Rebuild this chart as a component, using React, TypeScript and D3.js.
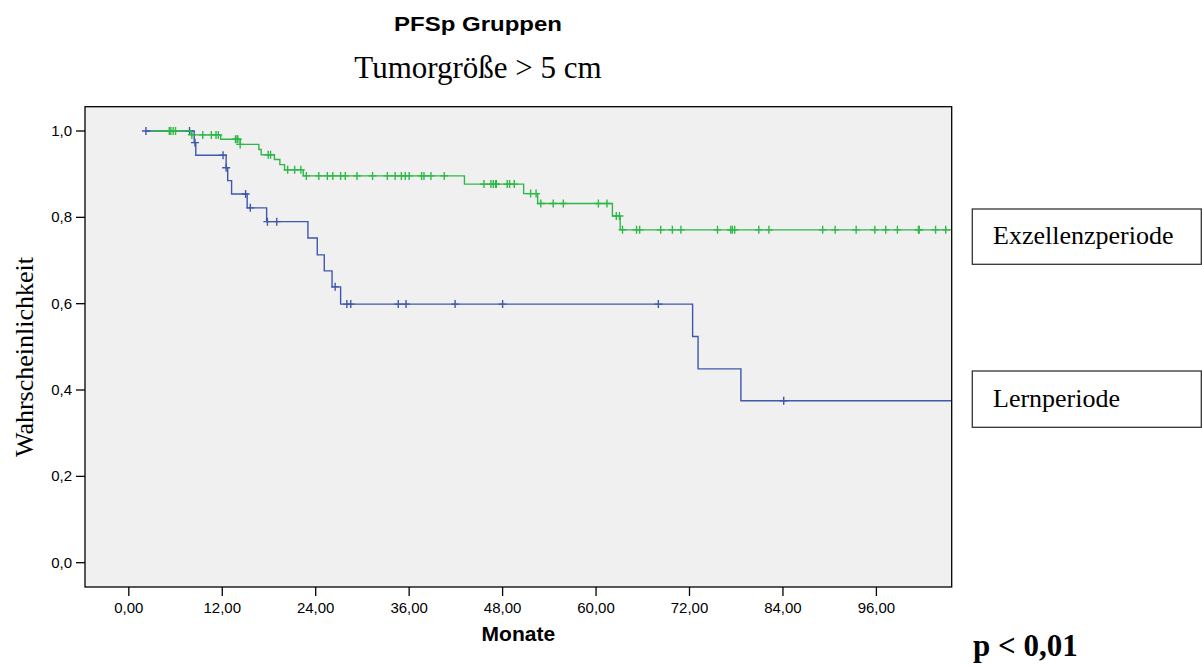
import React from 'react';
import * as d3 from 'd3';

const title = 'PFSp Gruppen';
const subtitle = 'Tumorgröße > 5 cm';
const xLabel = 'Monate';
const yLabel = 'Wahrscheinlichkeit';
const pText = 'p < 0,01';
const groupNames = ['Exzellenzperiode', 'Lernperiode'];
const groupColors = ['#2EB848', '#3E58AC'];

const xTicks = [0, 12, 24, 36, 48, 60, 72, 84, 96];
const yTicks = [0, 0.2, 0.4, 0.6, 0.8, 1.0];
const endTime = 105.6;

// Lernperiode (blue)
const lernStart = 2.2;
const lernTimes = [8.4, 8.6, 12.5, 12.7, 13.2, 15.2, 17.7, 23.0, 24.2, 25.1, 26.1, 27.2, 72.4, 73.1, 78.6];
const lernSurv = [0.973, 0.944, 0.915, 0.885, 0.854, 0.822, 0.79, 0.752, 0.713, 0.676, 0.639, 0.599, 0.524, 0.449, 0.375];
const lernCensored = [2.2, 7.8, 8.5, 12.1, 12.5, 15.0, 15.6, 17.8, 19.0, 26.5, 28.0, 28.5, 34.6, 35.6, 41.9, 48.0, 68.0, 84.1];

// Exzellenzperiode (green)
const exzStart = 3.0;
const exzTimes = [8.0, 11.8, 14.3, 16.7, 17.0, 18.7, 19.4, 20.0, 22.4, 43.1, 50.7, 52.5, 62.1, 63.1];
const exzSurv = [0.991, 0.981, 0.969, 0.957, 0.945, 0.934, 0.922, 0.91, 0.896, 0.877, 0.855, 0.832, 0.803, 0.771];
const exzCensored = [5.2, 5.4, 5.7, 6.0, 8.1, 9.5, 10.6, 11.2, 11.5, 13.7, 13.9, 14.0, 14.3, 17.9, 18.2, 20.4, 21.3, 22.1, 22.8, 24.4, 25.5, 26.2, 27.2, 27.8, 29.3, 31.3, 33.2, 34.2, 35.0, 35.5, 36.0, 37.6, 37.9, 38.8, 40.5, 45.6, 46.5, 46.8, 47.1, 47.2, 48.6, 48.9, 49.5, 51.6, 52.3, 52.9, 54.5, 55.8, 60.3, 61.4, 62.6, 63.0, 63.4, 65.2, 65.6, 68.3, 69.8, 70.9, 75.6, 77.3, 77.5, 77.8, 80.9, 82.2, 89.1, 90.7, 93.4, 95.8, 97.2, 98.7, 101.4, 101.5, 103.6, 104.9];

const W = 1202;
const H = 666;
const plotL = 85;
const plotR = 951.7;
const plotT = 106.7;
const plotB = 587;

const SANS = "'Liberation Sans', Arial, sans-serif";
const SERIF = "'Liberation Serif', 'Times New Roman', serif";

const x = d3.scaleLinear().domain([0, 96]).range([128.8, 876.4]);
const y = d3.scaleLinear().domain([0, 1]).range([562.7, 131]);

function survAt(times: number[], surv: number[], t: number) {
  let s = 1;
  for (let i = 0; i < times.length; i++) {
    if (times[i] <= t) s = surv[i];
  }
  return s;
}

const line = d3
  .line<[number, number]>()
  .x((d) => x(d[0]))
  .y((d) => y(d[1]))
  .curve(d3.curveStepAfter);

function stepPath(start: number, times: number[], surv: number[]) {
  const pts: [number, number][] = [[start, 1]];
  times.forEach((t, i) => pts.push([t, surv[i]]));
  pts.push([endTime, surv[surv.length - 1]]);
  return line(pts) || '';
}

const series = [
  { name: groupNames[1], start: lernStart, times: lernTimes, surv: lernSurv, cens: lernCensored, color: groupColors[1] },
  { name: groupNames[0], start: exzStart, times: exzTimes, surv: exzSurv, cens: exzCensored, color: groupColors[0] },
];

export default function App() {
  const arm = 4;
  return (
    <svg
      width={W}
      height={H}
      style={{ position: 'absolute', left: 0, top: 0, background: '#fff' }}
    >
      <defs>
        <clipPath id="plotclip">
          <rect x={plotL} y={plotT} width={plotR - plotL} height={plotB - plotT} />
        </clipPath>
      </defs>
      <rect x={0} y={0} width={W} height={H} fill="#fff" />
      <text x={478} y={31} textAnchor="middle" fontFamily={SANS} fontWeight="bold" fontSize={21} textLength={168} lengthAdjust="spacingAndGlyphs" fill="#000">
        {title}
      </text>
      <text x={478} y={78} textAnchor="middle" fontFamily={SERIF} fontSize={31} fill="#000">
        {subtitle}
      </text>

      <rect x={plotL} y={plotT} width={plotR - plotL} height={plotB - plotT} fill="#f0f0f0" />

      <g clipPath="url(#plotclip)">
        {series.map((s) => (
          <g key={s.name}>
            <path d={stepPath(s.start, s.times, s.surv)} fill="none" stroke={s.color} strokeWidth={1.4} />
            {s.cens.map((t, i) => {
              const cx = x(t);
              const cy = y(survAt(s.times, s.surv, t));
              return (
                <path
                  key={i}
                  d={`M${cx - arm},${cy}H${cx + arm}M${cx},${cy - arm}V${cy + arm}`}
                  stroke={s.color}
                  strokeWidth={1.4}
                  fill="none"
                />
              );
            })}
          </g>
        ))}
      </g>

      <rect x={plotL} y={plotT} width={plotR - plotL} height={plotB - plotT} fill="none" stroke="#000" strokeWidth={1.3} />

      {yTicks.map((v) => (
        <g key={v}>
          <line x1={76} x2={plotL} y1={y(v)} y2={y(v)} stroke="#000" strokeWidth={1.3} />
          <text x={72} y={y(v) + 5} textAnchor="end" fontFamily={SANS} fontSize={15} fill="#000">
            {d3.format('.1f')(v).replace('.', ',')}
          </text>
        </g>
      ))}
      {xTicks.map((v) => (
        <g key={v}>
          <line x1={x(v)} x2={x(v)} y1={plotB} y2={plotB + 9} stroke="#000" strokeWidth={1.3} />
          <text x={x(v)} y={613} textAnchor="middle" fontFamily={SANS} fontSize={15} fill="#000">
            {d3.format('.2f')(v).replace('.', ',')}
          </text>
        </g>
      ))}
      <text x={(plotL + plotR) / 2} y={641} textAnchor="middle" fontFamily={SANS} fontWeight="bold" fontSize={21} fill="#000">
        {xLabel}
      </text>
      <text transform={`translate(33,357) rotate(-90)`} textAnchor="middle" fontFamily={SERIF} fontSize={26} fill="#000">
        {yLabel}
      </text>

      <rect x={972.3} y={209} width={229} height={55.3} fill="#fff" stroke="#333" strokeWidth={1.3} />
      <text x={993} y={244} fontFamily={SERIF} fontSize={26} fill="#000">
        {groupNames[0]}
      </text>
      <rect x={972.3} y={371} width={229} height={56.3} fill="#fff" stroke="#333" strokeWidth={1.3} />
      <text x={993} y={407} fontFamily={SERIF} fontSize={26} fill="#000">
        {groupNames[1]}
      </text>

      <text x={973} y={656} fontFamily={SERIF} fontWeight="bold" fontSize={31} fill="#000">
        {pText}
      </text>
    </svg>
  );
}
